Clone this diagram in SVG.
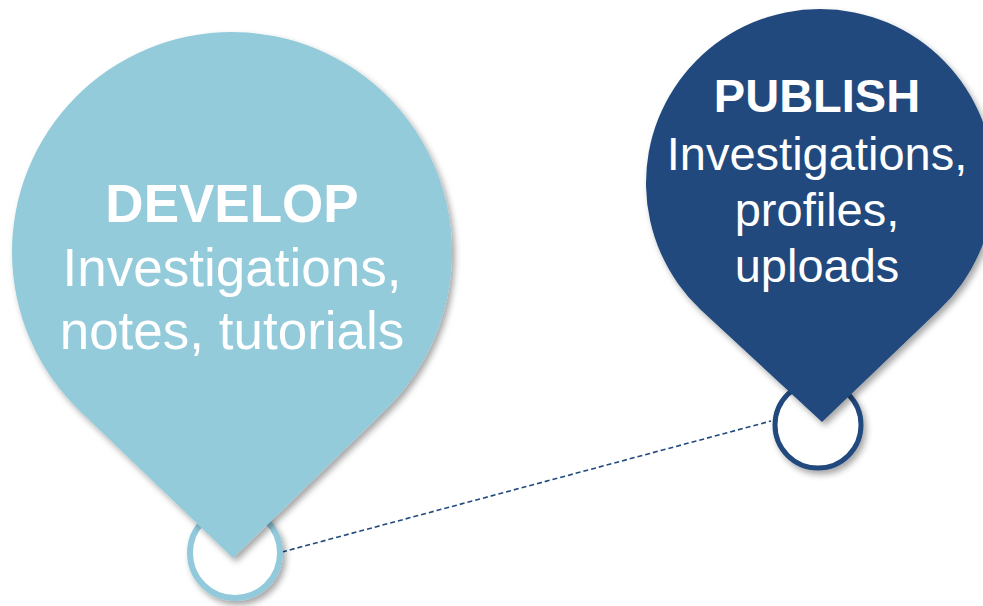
<svg xmlns="http://www.w3.org/2000/svg" width="983" height="606" viewBox="0 0 983 606">
<defs>
<filter id="sh" x="-20%" y="-20%" width="140%" height="140%">
<feDropShadow dx="3" dy="4" stdDeviation="3" flood-color="#000" flood-opacity="0.35"/>
</filter>
</defs>
<style>
.t{font-family:"Liberation Sans",Arial,sans-serif;fill:#fff;text-anchor:middle}
.b{font-weight:bold}
.ring{fill:#fff;filter:url(#sh)}
</style>
<rect width="983" height="606" fill="#fff"/>
<g id="connectors">
<line x1="282" y1="552" x2="771" y2="421" stroke="#214A7D" stroke-width="1.6" stroke-dasharray="5,3"/>
</g>
<g id="develop">
<circle class="ring" cx="235" cy="553" r="45" stroke="#92CADB" stroke-width="6"/>
<path d="M233 558 L79.1 410.2 A220 220 0 1 1 384.9 410.2 Z" fill="#93CBDB" filter="url(#sh)"/>
<text class="t b" x="232" y="222" font-size="53">DEVELOP</text>
<text class="t" x="232" y="286" font-size="53">Investigations,</text>
<text class="t" x="232" y="349" font-size="53">notes, tutorials</text>
</g>
<g id="publish">
<circle class="ring" cx="818" cy="425" r="43" stroke="#214A7D" stroke-width="5"/>
<path d="M822 422 L700.7 309.7 A174 174 0 1 1 939.3 309.7 Z" fill="#214A7D" filter="url(#sh)"/>
<text class="t b" x="817" y="112" font-size="47">PUBLISH</text>
<text class="t" x="817" y="170" font-size="47">Investigations,</text>
<text class="t" x="817" y="226" font-size="47">profiles,</text>
<text class="t" x="817" y="282" font-size="47">uploads</text>
</g>
</svg>
